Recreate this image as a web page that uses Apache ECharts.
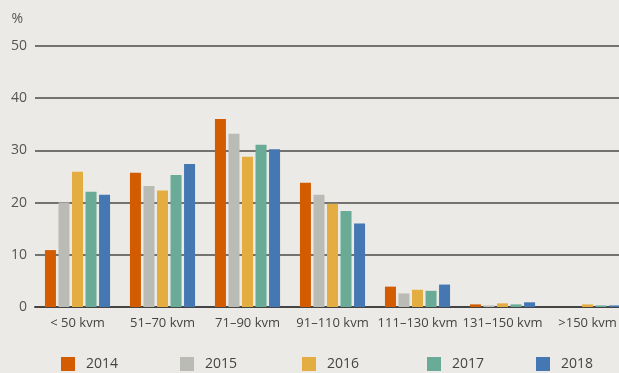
<!DOCTYPE html>
<html><head><meta charset="utf-8">
<script src="https://cdn.jsdelivr.net/npm/echarts@6/dist/echarts.min.js"></script>
<style>html,body{margin:0;padding:0;background:#EBEAE6;}#c{width:619px;height:373px;}</style>
</head><body><div id="c"></div>
<script>
const categories = ['< 50 kvm','51–70 kvm','71–90 kvm','91–110 kvm','111–130 kvm','131–150 kvm','>150 kvm'];
const years = ['2014','2015','2016','2017','2018'];
const v2014 = [10.9, 25.7, 36.0, 23.8, 3.9, 0.5, 0];
const v2015 = [20.0, 23.2, 33.2, 21.5, 2.6, 0.3, 0];
const v2016 = [25.9, 22.3, 28.8, 19.8, 3.3, 0.7, 0.5];
const v2017 = [22.1, 25.3, 31.1, 18.4, 3.1, 0.5, 0.3];
const v2018 = [21.5, 27.4, 30.2, 16.0, 4.3, 0.9, 0.3];
const colors = ['#D35B00','#BBBBB5','#E3AD42','#6AAB98','#4577B2'];
const yTicks = [0,10,20,30,40,50];
const values = [v2014, v2015, v2016, v2017, v2018];
const legendLeft = [61, 180, 302, 427, 536];

const font = '"Open Sans", "Noto Sans", sans-serif';
const chart = echarts.init(document.getElementById('c'));
chart.setOption({
  backgroundColor: '#EBEAE6',
  animation: false,
  textStyle: {fontFamily: font},
  grid: {left: 35, top: 46, width: 595, bottom: 66, containLabel: false, outerBoundsMode: 'none'},
  legend: years.map((y, i) => ({
    data: [y], left: legendLeft[i], top: 357, itemWidth: 14, itemHeight: 14, icon: 'rect',
    itemGap: 0, textStyle: {fontSize: 14, color: '#444', fontFamily: font, padding: [0,0,0,6]}, padding: 0
  })),
  xAxis: {
    type: 'category', data: categories,
    axisLine: {lineStyle: {color: '#444', width: 2}},
    axisTick: {show: false},
    axisLabel: {fontSize: 13, color: '#444', margin: 10, fontFamily: font, interval: 0}
  },
  yAxis: {
    type: 'value', min: 0, max: 50, interval: 10,
    name: '%', nameLocation: 'end', nameGap: 20,
    nameTextStyle: {fontSize: 14, color: '#555', align: 'right', padding: [0, 12, 0, 0], fontFamily: font},
    axisLine: {show: false}, axisTick: {show: false},
    axisLabel: {fontSize: 14, color: '#555', margin: 8, fontFamily: font,
      formatter: v => yTicks.includes(v) ? String(v) : ''},
    splitLine: {lineStyle: {color: '#4a4a4a', width: 1.5}}
  },
  series: years.map((y, i) => ({
    name: y, type: 'bar', data: values[i], barWidth: 11, barGap: '23%',
    itemStyle: {color: colors[i]}
  }))
});
</script></body></html>
